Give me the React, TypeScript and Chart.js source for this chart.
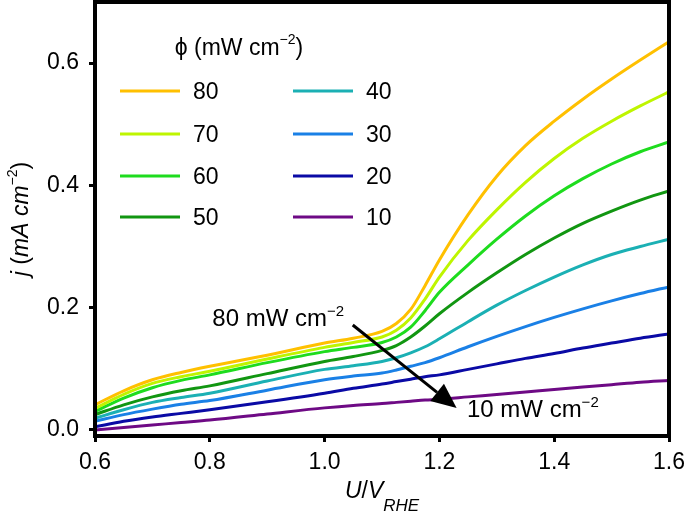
import React, { useEffect, useRef } from "react";
import { Chart, registerables } from "chart.js";

Chart.register(...registerables);

// ---- data ----
const U_VALUES = [0.6, 0.65, 0.7, 0.75, 0.8, 0.9, 1.0, 1.05, 1.1, 1.125, 1.15, 1.175, 1.2, 1.25, 1.3, 1.35, 1.4, 1.45, 1.5, 1.55, 1.6];

const J_80 = [0.041, 0.064, 0.082, 0.094, 0.104, 0.122, 0.142, 0.150, 0.161, 0.174, 0.197, 0.236, 0.278, 0.352, 0.415, 0.465, 0.505, 0.541, 0.574, 0.605, 0.635];
const J_70 = [0.035, 0.058, 0.076, 0.087, 0.096, 0.116, 0.135, 0.143, 0.152, 0.163, 0.183, 0.214, 0.250, 0.310, 0.360, 0.405, 0.444, 0.477, 0.505, 0.530, 0.553];
const J_60 = [0.030, 0.052, 0.069, 0.081, 0.090, 0.110, 0.128, 0.135, 0.143, 0.152, 0.168, 0.195, 0.225, 0.270, 0.312, 0.350, 0.383, 0.411, 0.435, 0.455, 0.471];
const J_50 = [0.025, 0.041, 0.054, 0.064, 0.072, 0.092, 0.112, 0.120, 0.130, 0.138, 0.152, 0.170, 0.190, 0.225, 0.257, 0.287, 0.314, 0.338, 0.358, 0.376, 0.391];
const J_40 = [0.019, 0.033, 0.045, 0.053, 0.060, 0.080, 0.099, 0.105, 0.112, 0.118, 0.126, 0.136, 0.149, 0.177, 0.204, 0.228, 0.250, 0.270, 0.287, 0.300, 0.312];
const J_30 = [0.014, 0.025, 0.034, 0.042, 0.048, 0.065, 0.082, 0.088, 0.093, 0.098, 0.104, 0.110, 0.118, 0.136, 0.153, 0.169, 0.184, 0.198, 0.211, 0.223, 0.234];
const J_20 = [0.005, 0.014, 0.021, 0.027, 0.033, 0.046, 0.060, 0.068, 0.075, 0.079, 0.083, 0.087, 0.090, 0.099, 0.108, 0.117, 0.125, 0.134, 0.142, 0.150, 0.157];
const J_10 = [0.000, 0.004, 0.008, 0.012, 0.016, 0.026, 0.036, 0.040, 0.043, 0.045, 0.047, 0.049, 0.050, 0.054, 0.058, 0.062, 0.066, 0.070, 0.074, 0.078, 0.081];

const SERIES = [J_80, J_70, J_60, J_50, J_40, J_30, J_20, J_10];
const POWER_LABELS = ["80", "70", "60", "50", "40", "30", "20", "10"];
const SERIES_COLORS = ["#FFC000", "#BEF500", "#1EDC1E", "#119611", "#1BB0B4", "#1A80E6", "#0A0AA5", "#6E0A85"];

const X_TICKS = [0.6, 0.8, 1.0, 1.2, 1.4, 1.6];
const Y_TICKS = [0.0, 0.2, 0.4, 0.6];
const X_MIN = 0.6;
const X_MAX = 1.6;
const Y_MIN = -0.01;
const Y_MAX = 0.7;

// annotation anchors (data coordinates)
const ARROW_FROM = { x: 1.049, y: 0.1716 };
const ARROW_TO = { x: 1.23, y: 0.0358 };
const LABEL_HIGH = { x: 1.034, y: 0.170, text: "80 mW cm" };
const LABEL_LOW = { x: 1.248, y: 0.0211, text: "10 mW cm" };
const SUP = "\u22122";
const LEGEND_TITLE = "\u03D5 (mW cm";

const FAMILY = "'Liberation Sans', Arial, Helvetica, sans-serif";

type Seg = { t: string; font: string; dy?: number };

function drawRich(ctx: CanvasRenderingContext2D, segs: Seg[], x: number, y: number, align: "left" | "right" | "center") {
  let total = 0;
  for (const s of segs) {
    ctx.font = s.font;
    total += ctx.measureText(s.t).width;
  }
  let cx = align === "left" ? x : align === "right" ? x - total : x - total / 2;
  ctx.textAlign = "left";
  ctx.textBaseline = "alphabetic";
  for (const s of segs) {
    ctx.font = s.font;
    ctx.fillText(s.t, cx, y + (s.dy || 0));
    cx += ctx.measureText(s.t).width;
  }
}

const decorPlugin = {
  id: "decor",
  afterDatasetsDraw(chart: any) {
    const { ctx, chartArea, scales } = chart;
    const xs = scales.x;
    const ys = scales.y;
    const L = chartArea.left;
    const T = chartArea.top;
    ctx.save();
    ctx.fillStyle = "#000";
    ctx.strokeStyle = "#000";

    // frame
    ctx.lineWidth = 4;
    ctx.strokeRect(chartArea.left, chartArea.top, chartArea.right - chartArea.left, chartArea.bottom - chartArea.top);

    // legend
    const f23 = `23px ${FAMILY}`;
    const f14 = `14px ${FAMILY}`;
    drawRich(ctx, [
      { t: LEGEND_TITLE, font: f23 },
      { t: SUP, font: f14, dy: -11 },
      { t: ")", font: f23 },
    ], L + 144, T + 53, "center");
    const rowY = [89, 132, 174, 215];
    const colX = [25, 198];
    chart.data.datasets.forEach((ds: any, i: number) => {
      const col = Math.floor(i / 4);
      const row = i % 4;
      const y = T + rowY[row];
      const x0 = L + colX[col];
      ctx.strokeStyle = ds.borderColor;
      ctx.lineWidth = 3;
      ctx.beginPath();
      ctx.moveTo(x0, y);
      ctx.lineTo(x0 + 60, y);
      ctx.stroke();
      ctx.fillStyle = "#000";
      ctx.font = f23;
      ctx.textAlign = "left";
      ctx.textBaseline = "alphabetic";
      ctx.fillText(ds.label, x0 + 73, y + 8);
    });

    // arrow
    const ax0 = xs.getPixelForValue(ARROW_FROM.x);
    const ay0 = ys.getPixelForValue(ARROW_FROM.y);
    const ax1 = xs.getPixelForValue(ARROW_TO.x);
    const ay1 = ys.getPixelForValue(ARROW_TO.y);
    const ang = Math.atan2(ay1 - ay0, ax1 - ax0);
    const headLen = 25;
    const headHalf = 11;
    const bx = ax1 - headLen * Math.cos(ang);
    const by = ay1 - headLen * Math.sin(ang);
    ctx.strokeStyle = "#000";
    ctx.lineWidth = 3;
    ctx.beginPath();
    ctx.moveTo(ax0, ay0);
    ctx.lineTo(bx, by);
    ctx.stroke();
    ctx.fillStyle = "#000";
    ctx.beginPath();
    ctx.moveTo(ax1, ay1);
    ctx.lineTo(bx + headHalf * Math.sin(ang), by - headHalf * Math.cos(ang));
    ctx.lineTo(bx - headHalf * Math.sin(ang), by + headHalf * Math.cos(ang));
    ctx.closePath();
    ctx.fill();

    // annotation labels
    const f24 = `24px ${FAMILY}`;
    const f15 = `15px ${FAMILY}`;
    drawRich(ctx, [
      { t: LABEL_HIGH.text, font: f24 },
      { t: SUP, font: f15, dy: -10 },
    ], xs.getPixelForValue(LABEL_HIGH.x), ys.getPixelForValue(LABEL_HIGH.y), "right");
    drawRich(ctx, [
      { t: LABEL_LOW.text, font: f24 },
      { t: SUP, font: f15, dy: -10 },
    ], xs.getPixelForValue(LABEL_LOW.x), ys.getPixelForValue(LABEL_LOW.y), "left");

    // axis titles
    const fi23 = `italic 23px ${FAMILY}`;
    const fi17 = `italic 17px ${FAMILY}`;
    const cx = (chartArea.left + chartArea.right) / 2;
    drawRich(ctx, [
      { t: "U", font: fi23 },
      { t: "/", font: `23px ${FAMILY}` },
      { t: "V", font: fi23 },
      { t: "RHE", font: fi17, dy: 13 },
    ], cx, 498, "center");

    const cy = (chartArea.top + chartArea.bottom) / 2;
    ctx.save();
    ctx.translate(28, cy);
    ctx.rotate(-Math.PI / 2);
    drawRich(ctx, [
      { t: "j", font: fi23 },
      { t: " (", font: `23px ${FAMILY}` },
      { t: "mA cm", font: fi23 },
      { t: SUP, font: f14, dy: -11 },
      { t: ")", font: `23px ${FAMILY}` },
    ], 0, 0, "center");
    ctx.restore();

    ctx.restore();
  },
};

export default function App() {
  const canvasRef = useRef<HTMLCanvasElement | null>(null);

  useEffect(() => {
    document.body.style.margin = "0";
    const canvas = canvasRef.current;
    if (!canvas) return;
    const datasets = SERIES.map((arr, i) => ({
      label: POWER_LABELS[i],
      data: U_VALUES.map((u, k) => ({ x: u, y: arr[k] })),
      borderColor: SERIES_COLORS[i],
      backgroundColor: SERIES_COLORS[i],
      borderWidth: 3,
      pointRadius: 0,
      fill: false,
      cubicInterpolationMode: "monotone" as const,
    }));
    const tickFont = { family: FAMILY, size: 23 };
    const chart = new Chart(canvas, {
      type: "line",
      data: { datasets },
      options: {
        animation: false,
        responsive: false,
        devicePixelRatio: 1,
        layout: { padding: { left: 0, right: 16, top: 2, bottom: 0 } },
        plugins: {
          legend: { display: false },
          tooltip: { enabled: false },
        },
        scales: {
          x: {
            type: "linear",
            min: X_MIN,
            max: X_MAX,
            afterBuildTicks: (s: any) => {
              s.ticks = X_TICKS.map((v) => ({ value: v }));
            },
            afterFit: (s: any) => {
              s.height = 78;
              s.paddingLeft = 0;
              s.paddingRight = 0;
              s.paddingTop = 0;
              s.paddingBottom = 0;
            },
            border: { display: false },
            grid: {
              drawOnChartArea: false,
              drawTicks: true,
              tickLength: 6,
              tickWidth: 3,
              tickColor: "#000",
            },
            ticks: {
              color: "#000",
              font: tickFont,
              padding: 7,
              maxRotation: 0,
              autoSkip: false,
              callback: (v: any) => Number(v).toFixed(1),
            },
          },
          y: {
            type: "linear",
            min: Y_MIN,
            max: Y_MAX,
            afterBuildTicks: (s: any) => {
              s.ticks = Y_TICKS.map((v) => ({ value: v }));
            },
            afterFit: (s: any) => {
              s.width = 95;
              s.paddingLeft = 0;
              s.paddingRight = 0;
              s.paddingTop = 0;
              s.paddingBottom = 0;
            },
            border: { display: false },
            grid: {
              drawOnChartArea: false,
              drawTicks: true,
              tickLength: 6,
              tickWidth: 3,
              tickColor: "#000",
            },
            ticks: {
              color: "#000",
              font: tickFont,
              padding: 10,
              autoSkip: false,
              callback: (v: any) => Number(v).toFixed(1),
            },
          },
        },
      },
      plugins: [decorPlugin],
    });
    return () => chart.destroy();
  }, []);

  return (
    <div style={{ width: 685, height: 514 }}>
      <canvas ref={canvasRef} width={685} height={514} style={{ display: "block" }} />
    </div>
  );
}
